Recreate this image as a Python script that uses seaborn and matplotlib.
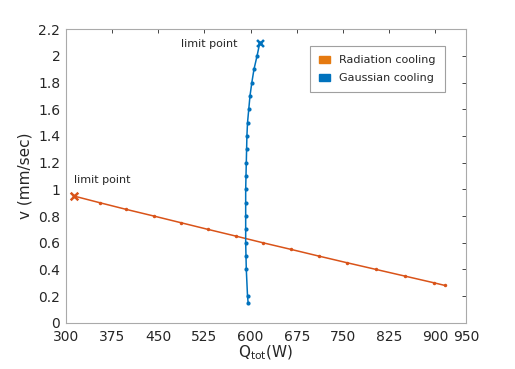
import numpy as np
import pandas as pd
import seaborn as sns
from matplotlib import pyplot as plt
from matplotlib.patches import Patch

# Radiation cooling branch (orange)
rad_v = [0.95, 0.90, 0.85, 0.80, 0.75, 0.70, 0.65, 0.60, 0.55, 0.50, 0.45, 0.40, 0.35, 0.30, 0.28]
rad_q = [313, 355, 398, 443, 487, 531, 576, 620, 666, 711, 757, 804, 851, 898, 916]

# Gaussian cooling branch (blue)
gau_v = [0.15, 0.20, 0.40, 0.50, 0.60, 0.70, 0.80, 0.90, 1.00, 1.10, 1.20, 1.30,
         1.40, 1.50, 1.60, 1.70, 1.80, 1.90, 2.00, 2.10]
gau_q = [596, 595, 593, 592.5, 592, 592, 592, 592, 592, 592.5, 593, 593.5,
         594, 595, 597, 599, 602, 605.5, 610.5, 615]

x_ticks = [300, 375, 450, 525, 600, 675, 750, 825, 900, 950]
y_ticks = [0, 0.2, 0.4, 0.6, 0.8, 1, 1.2, 1.4, 1.6, 1.8, 2, 2.2]

orange = '#D95319'
blue = '#0072BD'

sns.set_style('white')
plt.rcParams['font.family'] = ['DejaVu Sans']

fig = plt.figure(figsize=(5.15, 3.69), dpi=100)
ax = fig.add_axes([0.128, 0.125, 0.777, 0.796])

rad = pd.DataFrame({'Q': rad_q, 'v': rad_v})
gau = pd.DataFrame({'Q': gau_q, 'v': gau_v})

sns.lineplot(data=rad, x='Q', y='v', ax=ax, color=orange, sort=False, estimator=None,
             lw=1.1, marker='o', markersize=2.5, markeredgewidth=0)
sns.lineplot(data=gau, x='Q', y='v', ax=ax, color=blue, sort=False, estimator=None,
             lw=1.1, marker='o', markersize=3, markeredgewidth=0)

# limit points
ax.scatter(rad_q[0], rad_v[0], marker='x', color=orange, s=30, linewidths=1.8, zorder=5)
ax.scatter(gau_q[-1], gau_v[-1], marker='x', color=blue, s=25, linewidths=1.8, zorder=5)
ax.text(rad_q[0], 1.035, 'limit point', fontsize=8, ha='left', va='bottom')
ax.text(gau_q[-1] - 37, gau_v[-1] - 0.01, 'limit point', fontsize=8, ha='right', va='center')

ax.set_xlim(300, 950)
ax.set_ylim(0, 2.2)
ax.set_xticks(x_ticks)
ax.set_xticklabels([str(t) for t in x_ticks])
ax.set_yticks(y_ticks)
ax.set_yticklabels(['0', '0.2', '0.4', '0.6', '0.8', '1', '1.2', '1.4', '1.6', '1.8', '2', '2.2'])
ax.tick_params(direction='in', length=3, width=0.6, colors='#262626', labelsize=10,
               top=True, right=True)
ax.tick_params(axis='x', pad=5)
ax.tick_params(axis='y', pad=4)
for s in ax.spines.values():
    s.set_color('#aaaaaa')
    s.set_linewidth(0.8)
ax.set_xlabel('Q$_{\\mathrm{tot}}$(W)', fontsize=11, labelpad=0)
ax.set_ylabel('v (mm/sec)', fontsize=11, labelpad=4)

handles = [Patch(color='#E57A10', label='Radiation cooling'),
           Patch(color=blue, label='Gaussian cooling')]
leg = ax.legend(handles=handles, loc='upper right', bbox_to_anchor=(0.96, 0.96),
                fontsize=8, frameon=True, fancybox=False, handlelength=1.0,
                handleheight=0.6, borderpad=0.8, labelspacing=0.7)
leg.get_frame().set_edgecolor('#888888')
leg.get_frame().set_linewidth(0.8)

fig.savefig('out.png', dpi=100)
